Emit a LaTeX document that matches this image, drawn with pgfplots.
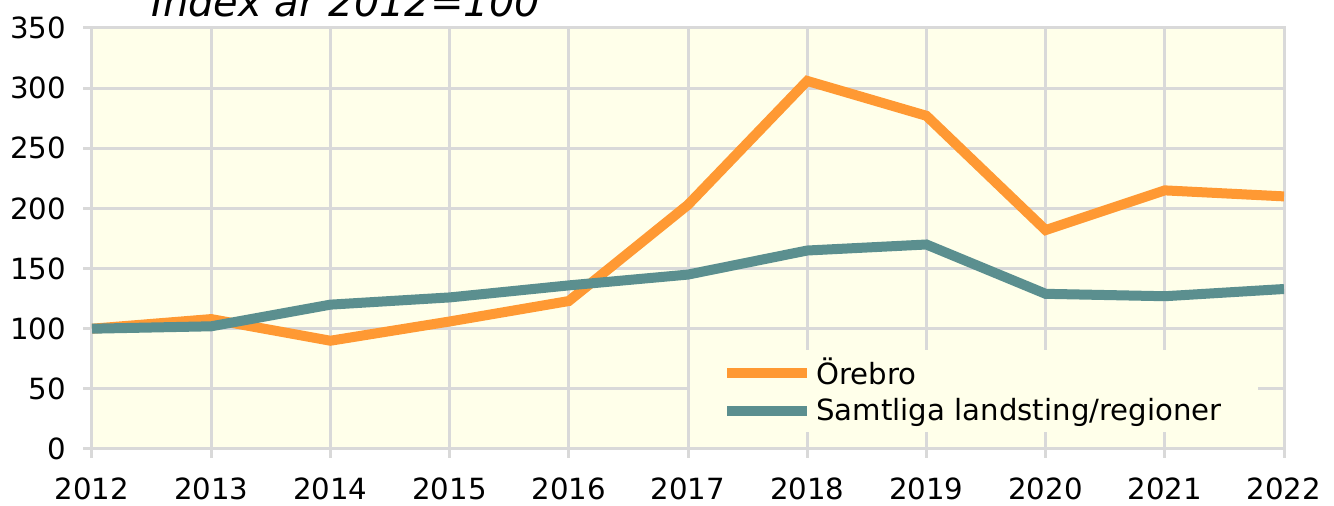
\documentclass[border=0pt]{standalone}
\usepackage{fontspec}
\setmainfont{DejaVu Sans}
\usepackage{pgfplots}
\pgfplotsset{compat=1.18}
\definecolor{bg}{RGB}{255,255,234}
\definecolor{gridc}{RGB}{217,217,217}
\definecolor{orangec}{RGB}{255,153,51}
\definecolor{tealc}{RGB}{91,143,143}
\begin{document}
\begin{tikzpicture}
\begin{axis}[
  scale only axis, width=596pt, height=210.5pt,
  xmin=2012, xmax=2022, ymin=0, ymax=350,
  xtick={2012,2013,...,2022},
  xticklabels={2012,2013,2014,2015,2016,2017,2018,2019,2020,2021,2022},
  ytick={0,50,...,350},
  /pgf/number format/assume math mode=true,
  xtick pos=bottom, ytick pos=left,
  grid=major, grid style={gridc, line width=1.5pt},
  axis line style={gridc, line width=1.5pt},
  tick style={gridc, line width=1.5pt},
  tick align=outside, major tick length=4.5pt,
  axis background/.style={fill=bg},
  ticklabel style={font=\fontsize{14.6}{17}\selectfont, text=black},
  xticklabel style={yshift=-6.5pt},
  yticklabel style={xshift=-5pt},
  legend style={at={(0.5017,0.0404)}, anchor=south west, draw=none, fill=bg,
    font=\fontsize{14.6}{17}\selectfont, inner xsep=16pt, inner ysep=2pt,
    row sep=1.5pt, column sep=0pt},
  legend cell align=left,
  legend image code/.code={\draw[#1, line width=5pt] (0pt,0pt) -- (40pt,0pt);},
]
\addplot[orangec, line width=5pt] coordinates {
 (2012,100) (2013,108) (2014,90) (2015,106) (2016,123) (2017,203)
 (2018,306) (2019,277) (2020,182) (2021,215) (2022,210)};
\addlegendentry{Örebro}
\addplot[tealc, line width=5pt] coordinates {
 (2012,100) (2013,102) (2014,120) (2015,126) (2016,136) (2017,145)
 (2018,165) (2019,170) (2020,129) (2021,127) (2022,133)};
\addlegendentry{Samtliga landsting/regioner}
\end{axis}
\node[anchor=base west, font=\itshape\fontsize{20}{24}\selectfont, inner sep=0pt]
  at ([xshift=29.5pt, yshift=5.5pt]current axis.north west) {Index år 2012=100};
\pgfresetboundingbox
\useasboundingbox ([xshift=-46pt,yshift=-28.5pt]current axis.south west)
  rectangle ([xshift=25pt,yshift=14pt]current axis.north east);
\end{tikzpicture}
\end{document}
